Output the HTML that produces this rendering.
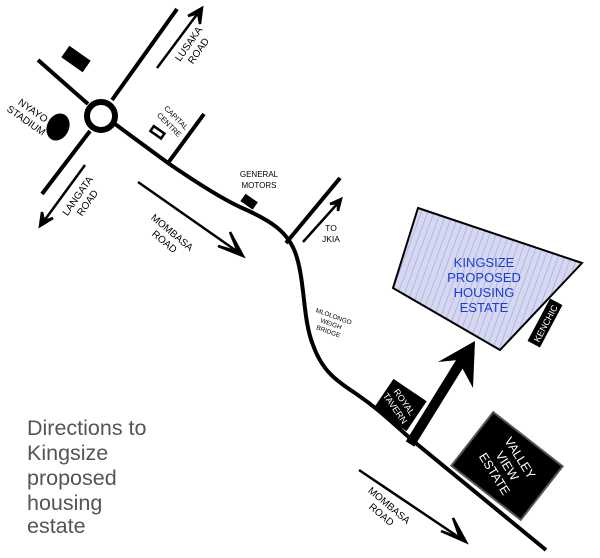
<!DOCTYPE html>
<html><head><style>
html,body{margin:0;padding:0;background:#fff;}
svg{display:block;font-family:"Liberation Sans",sans-serif;}
</style></head><body>
<svg width="600" height="558" viewBox="0 0 600 558" xmlns="http://www.w3.org/2000/svg">
<defs>
<pattern id="hatch" width="6" height="6" patternUnits="userSpaceOnUse" patternTransform="rotate(20)">
<rect width="6" height="6" fill="#d6d8f2"/>
<line x1="0" y1="0" x2="0" y2="6" stroke="#a8acd8" stroke-width="1.5"/>
</pattern>
</defs>
<g stroke="#000" stroke-width="4" fill="none" stroke-linecap="butt">
<line x1="177" y1="9" x2="112" y2="100"/>
<line x1="90" y1="131" x2="42" y2="194"/>
<line x1="38" y1="60" x2="88" y2="104"/>
<path d="M115,124 L168,163 C200,185 225,200 240,207 C270,220 290,232 297,258 C305,285 303,320 313,345 C322,370 335,380 355,393 C380,410 395,425 412,440 L546,550"/>
<line x1="204" y1="114" x2="168" y2="163"/>
<line x1="340" y1="178" x2="286" y2="243"/>
</g>
<circle cx="101" cy="116" r="14" fill="none" stroke="#000" stroke-width="6"/>
<ellipse cx="58" cy="127" rx="11" ry="14" transform="rotate(25 58 127)" fill="#000"/>
<rect x="63" y="52" width="26" height="14" transform="rotate(35 76 59)" fill="#000"/>
<rect x="151" y="129" width="13" height="6" transform="rotate(35 157 132)" fill="none" stroke="#000" stroke-width="2.5"/>
<rect x="242" y="197" width="15" height="9" transform="rotate(35 249 201)" fill="#000"/>
<g stroke="#000" stroke-width="2.5" fill="#000">
<line x1="157" y1="68" x2="198" y2="13"/><path d="M202,8 L188,16 L198,13 L200,24 Z"/>
<line x1="85" y1="165" x2="44" y2="221"/><path d="M40,226 L42,212 L44,221 L53,218 Z"/>
<line x1="138" y1="182" x2="238" y2="252"/><path d="M243,256 L218,246 L238,252 L230,232 Z"/>
<line x1="303" y1="242" x2="338" y2="203"/><path d="M341,199 L330,204 L338,203 L338,211 Z"/>
<line x1="359" y1="470" x2="460" y2="538"/><path d="M466,542 L441,531 L460,538 L453,518 Z"/>
</g>
<polygon points="418,208 582,263 500,350 393,288" fill="url(#hatch)" stroke="#000" stroke-width="2"/>
<g fill="#1a3cd6" font-size="13" text-anchor="middle">
<text x="484" y="267">KINGSIZE</text>
<text x="484" y="282">PROPOSED</text>
<text x="484" y="297">HOUSING</text>
<text x="484" y="312">ESTATE</text>
</g>
<g transform="translate(545,323) rotate(-62)"><rect x="-24" y="-7" width="48" height="14" fill="#000"/><text x="0" y="4" fill="#fff" font-size="9" text-anchor="middle">KENCHIC</text></g>
<line x1="410" y1="444" x2="462" y2="360" stroke="#000" stroke-width="10"/>
<path d="M475,341 L438,362 L458,360 L473,388 Z" fill="#000"/>
<g transform="translate(400,405) rotate(34)"><rect x="-20" y="-18" width="40" height="36" fill="#000"/>
<g transform="rotate(21)" fill="#fff" font-size="9" text-anchor="middle"><text x="0" y="-2">ROYAL</text><text x="0" y="9">TAVERN</text></g></g>
<g transform="translate(507,466) rotate(38)"><rect x="-44" y="-34" width="88" height="68" fill="#000" stroke="#555" stroke-width="2"/>
<g transform="rotate(20)" fill="#fff" font-size="12.5" text-anchor="middle"><text x="0" y="-11">VALLEY</text><text x="0" y="4">VIEW</text><text x="0" y="19">ESTATE</text></g></g>
<g fill="#000" font-size="10" text-anchor="middle">
<g transform="translate(193,47) rotate(-55)"><text x="0" y="-2">LUSAKA</text><text x="0" y="10">ROAD</text></g>
<g transform="translate(82,199) rotate(-55)"><text x="0" y="-2">LANGATA</text><text x="0" y="10">ROAD</text></g>
<g transform="translate(30,115) rotate(35)"><text x="0" y="-2">NYAYO</text><text x="0" y="10">STADIUM</text></g>
<g transform="translate(173,121) rotate(45)" font-size="7.5"><text x="0" y="-2">CAPITAL</text><text x="0" y="8">CENTRE</text></g>
<g font-size="8"><text x="259" y="177">GENERAL</text><text x="259" y="188">MOTORS</text></g>
<g transform="translate(170,235) rotate(40)"><text x="0" y="0">MOMBASA</text><text x="0" y="12">ROAD</text></g>
<g transform="translate(387,508) rotate(40)"><text x="0" y="0">MOMBASA</text><text x="0" y="12">ROAD</text></g>
<g font-size="8.5"><text x="331" y="231">TO</text><text x="331" y="242">JKIA</text></g>
<g transform="translate(331,324) rotate(20)" font-size="6.5"><text x="0" y="-6">MLOLONGO</text><text x="0" y="2">WEIGH</text><text x="0" y="10">BRIDGE</text></g>
</g>
<g fill="#555" font-size="21.5">
<text x="27" y="435">Directions to</text>
<text x="27" y="460">Kingsize</text>
<text x="27" y="485">proposed</text>
<text x="27" y="510">housing</text>
<text x="27" y="533">estate</text>
</g>
</svg>
</body></html>
